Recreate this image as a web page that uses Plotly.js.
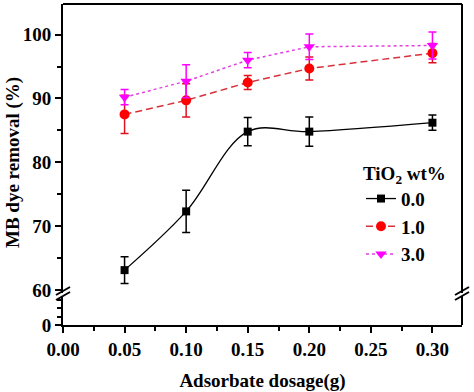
<!DOCTYPE html>
<html>
<head>
<meta charset="utf-8">
<script src="https://cdn.plot.ly/plotly-3.0.1.min.js"></script>
<style>html,body{margin:0;padding:0;background:#fff;}#chart{width:474px;height:392px;}</style>
</head>
<body>
<div id="chart"></div>
<script>
// Data
const dosage = [0.05, 0.10, 0.15, 0.20, 0.30];
const removal0 = [63.1, 72.3, 84.8, 84.8, 86.2];
const err0 = [2.1, 3.3, 2.2, 2.3, 1.2];
const removal1 = [87.5, 89.7, 92.5, 94.7, 97.1];
const err1 = [3.0, 2.6, 1.1, 1.8, 1.5];
const removal3 = [90.2, 92.7, 96.0, 98.1, 98.3];
const err3 = [1.2, 2.6, 1.2, 2.0, 2.1];
const seriesNames = ['0.0', '1.0', '3.0'];
const yTicks = [60, 70, 80, 90, 100];
const xTicks = [0, 0.05, 0.10, 0.15, 0.20, 0.25, 0.30];

const FONT = 'Liberation Serif, Times New Roman, serif';
const W = 474, H = 392, L = 63, R = 12, T = 4, B = 67;
const pw = W - L - R, ph = H - T - B;
const px = x => (x - L) / pw;
const py = y => (H - B - y) / ph;

const traces = [
  {x: dosage, y: removal0, name: seriesNames[0], type: 'scatter', mode: 'lines+markers',
   line: {color: '#000', width: 1.3, shape: 'spline', smoothing: 1},
   marker: {symbol: 'square', size: 8, color: '#000'},
   error_y: {type: 'data', array: err0, visible: true, color: '#000', thickness: 1.5, width: 4}},
  {x: dosage, y: removal1, name: seriesNames[1], type: 'scatter', mode: 'lines+markers',
   line: {color: '#d8303a', width: 1.5, dash: '7px,4px'},
   marker: {symbol: 'circle', size: 10, color: '#ff0000'},
   error_y: {type: 'data', array: err1, visible: true, color: '#e01020', thickness: 1.5, width: 4}},
  {x: dosage, y: removal3, name: seriesNames[2], type: 'scatter', mode: 'lines+markers',
   line: {color: '#e040e0', width: 1.5, dash: 'dot'},
   marker: {symbol: 'triangle-down', size: 10, color: '#ff00ff'},
   error_y: {type: 'data', array: err3, visible: true, color: '#ff00ff', thickness: 1.5, width: 4}},
  // empty trace so that the lower (broken) y axis segment is drawn
  {x: [], y: [], xaxis: 'x', yaxis: 'y2', type: 'scatter', mode: 'markers', showlegend: false, hoverinfo: 'skip'}
];

function brk(xc, yc) {
  const s = [];
  [0, 5].forEach(off => {
    s.push({type: 'line', xref: 'paper', yref: 'paper',
      x0: px(xc - 7), y0: py(yc + 4 - off + 2), x1: px(xc + 7), y1: py(yc - 4 - off + 2),
      line: {color: '#000', width: 2}});
  });
  return s;
}

const shapes = [
  {type: 'line', xref: 'paper', yref: 'paper', x0: 0, x1: 1, y0: 1, y1: 1, line: {color: '#000', width: 2}},
  {type: 'line', xref: 'paper', yref: 'paper', x0: 1, x1: 1, y0: 0.1, y1: 1, line: {color: '#000', width: 2}},
  {type: 'line', xref: 'paper', yref: 'paper', x0: 1, x1: 1, y0: 0, y1: 0.09, line: {color: '#000', width: 2}}
].concat(brk(L, 294)).concat(brk(L + pw, 294));

const layout = {
  width: W, height: H,
  margin: {l: L, r: R, t: T, b: B},
  paper_bgcolor: '#fff', plot_bgcolor: '#fff',
  font: {family: FONT, size: 19, color: '#000', weight: 'bold'},
  showlegend: true,
  xaxis: {
    anchor: 'y2', range: [0, 0.324], tickvals: xTicks, tickformat: '.2f',
    showline: true, linewidth: 2, linecolor: '#000', showgrid: false, zeroline: false,
    ticks: 'outside', ticklen: 6, tickwidth: 2, tickcolor: '#000',
    minor: {dtick: 0.025, tick0: 0, ticks: 'outside', ticklen: 4, tickwidth: 2, tickcolor: '#000', showgrid: false},
    tickfont: {family: FONT, size: 19, weight: 'bold'},
    title: {text: 'Adsorbate dosage(g)', font: {family: FONT, size: 19, weight: 'bold'}, standoff: 20}
  },
  yaxis: {
    anchor: 'x', domain: [0.1, 1], range: [59.53, 104.8], tickvals: yTicks,
    showline: true, linewidth: 2, linecolor: '#000', showgrid: false, zeroline: false,
    ticks: 'outside', ticklen: 6, tickwidth: 2, tickcolor: '#000',
    minor: {dtick: 5, tick0: 60, ticks: 'outside', ticklen: 4, tickwidth: 2, tickcolor: '#000', showgrid: false},
    tickfont: {family: FONT, size: 19, weight: 'bold'}
  },
  yaxis2: {
    anchor: 'x', domain: [0, 0.09], range: [0, 3.4], tickvals: [0], ticktext: ['0'],
    showline: true, linewidth: 2, linecolor: '#000', showgrid: false, zeroline: false,
    ticks: 'outside', ticklen: 6, tickwidth: 2, tickcolor: '#000',
    minor: {dtick: 1, tick0: 0, ticks: 'outside', ticklen: 4, tickwidth: 2, tickcolor: '#000', showgrid: false},
    tickfont: {family: FONT, size: 19, weight: 'bold'}
  },
  annotations: [
    {text: 'MB dye removal (%)', xref: 'paper', yref: 'paper', x: px(13), y: py(163),
     xanchor: 'center', yanchor: 'middle', textangle: -90, showarrow: false,
     font: {family: FONT, size: 19, weight: 'bold'}}
  ],
  legend: {
    x: px(361), y: py(155), xanchor: 'left', yanchor: 'top',
    bgcolor: 'rgba(0,0,0,0)', borderwidth: 0,
    title: {text: 'TiO<sub>2</sub> wt%', font: {family: FONT, size: 19, weight: 'bold'}},
    font: {family: FONT, size: 19, weight: 'bold'},
    tracegroupgap: 0, itemwidth: 30
  },
  shapes: shapes
};

Plotly.newPlot('chart', traces, layout, {staticPlot: true, displayModeBar: false});
</script>
</body>
</html>
